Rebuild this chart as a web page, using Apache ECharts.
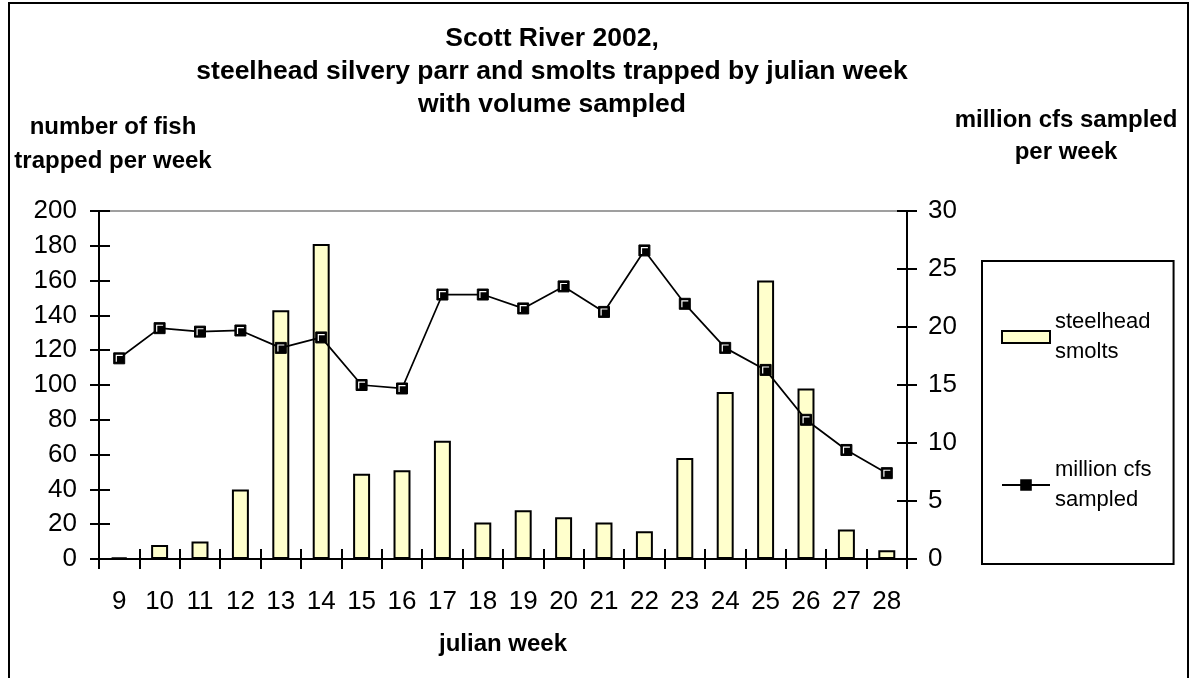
<!DOCTYPE html>
<html>
<head>
<meta charset="utf-8">
<script src="https://cdn.jsdelivr.net/npm/echarts@6/dist/echarts.min.js"></script>
<style>
  html, body { margin: 0; padding: 0; background: #fff; }
  #chart { width: 1196px; height: 678px; }
</style>
</head>
<body>
<div id="chart"></div>
<script>
// Julian weeks sampled at the Scott River trap, 2002
const weeks = ['9', '10', '11', '12', '13', '14', '15', '16', '17', '18',
               '19', '20', '21', '22', '23', '24', '25', '26', '27', '28'];
// Steelhead silvery parr and smolts trapped per week
const smolts = [1, 8, 10, 40, 143, 181, 49, 51, 68, 21,
                28, 24, 21, 16, 58, 96, 160, 98, 17, 5];
// Volume sampled per week (million cfs)
const volume = [17.3, 19.9, 19.6, 19.7, 18.2, 19.1, 15.0, 14.7, 22.8, 22.8,
                21.6, 23.5, 21.3, 26.6, 22.0, 18.2, 16.3, 12.0, 9.4, 7.4];
// Axis scales
const fishAxis = { min: 0, max: 200, interval: 20 };
const volumeAxis = { min: 0, max: 30, interval: 5 };

const FONT = '"Liberation Sans", Arial, sans-serif';
const legendLabels = {
  'steelhead smolts': 'steelhead\nsmolts',
  'million cfs sampled': 'million cfs\nsampled'
};

const chart = echarts.init(document.getElementById('chart'), null, { renderer: 'canvas' });

const tickLabel = { color: '#000', fontFamily: FONT, fontSize: 26 };
const blackLine = { show: true, lineStyle: { color: '#000', width: 2 } };

chart.setOption({
  backgroundColor: '#fff',
  animation: false,
  textStyle: { fontFamily: FONT },
  title: [
    {
      text: 'Scott River 2002,\nsteelhead silvery parr and smolts trapped by julian week\nwith volume sampled',
      left: 552, top: 22, padding: 0, textAlign: 'center',
      textStyle: { fontFamily: FONT, fontWeight: 'bold', fontSize: 26.5, lineHeight: 33, color: '#000' }
    },
    {
      text: 'number of fish\ntrapped per week',
      left: 113, top: 110, padding: 0, textAlign: 'center',
      textStyle: { fontFamily: FONT, fontWeight: 'bold', fontSize: 24, lineHeight: 34, color: '#000' }
    },
    {
      text: 'million cfs sampled\nper week',
      left: 1066, top: 104, padding: 0, textAlign: 'center',
      textStyle: { fontFamily: FONT, fontWeight: 'bold', fontSize: 24, lineHeight: 32, color: '#000' }
    }
  ],
  legend: {
    orient: 'vertical',
    left: 982, top: 261,
    padding: [46, 22, 49, 19],
    itemGap: 88,
    itemWidth: 48, itemHeight: 12,
    borderColor: '#000', borderWidth: 2,
    data: [
      { name: 'steelhead smolts', icon: 'rect' },
      { name: 'million cfs sampled' }
    ],
    formatter: name => legendLabels[name],
    textStyle: { fontFamily: FONT, fontSize: 22, lineHeight: 30, color: '#000' }
  },
  grid: { left: 99, right: 289, top: 211, bottom: 119, containLabel: false, outerBoundsMode: 'none' },
  xAxis: [
    {
      type: 'category', data: weeks, position: 'bottom',
      axisLine: { onZero: false, show: true, lineStyle: { color: '#000', width: 2 } },
      axisTick: { show: true, inside: false, length: 10, lineStyle: { color: '#000', width: 2 } },
      axisLabel: Object.assign({ margin: 30, interval: 0 }, tickLabel),
      splitLine: { show: false },
      name: 'julian week', nameLocation: 'middle', nameGap: 73,
      nameTextStyle: { fontFamily: FONT, fontWeight: 'bold', fontSize: 24, color: '#000' }
    },
    {
      // inward half of the crossing category ticks
      type: 'category', data: weeks, position: 'bottom',
      axisLine: { onZero: false, show: false },
      axisTick: { show: true, inside: true, length: 10, lineStyle: { color: '#000', width: 2 } },
      axisLabel: { show: false }, splitLine: { show: false }
    },
    {
      // grey frame line along the top of the plot
      type: 'category', data: weeks, position: 'top',
      axisLine: { onZero: false, show: true, lineStyle: { color: '#808080', width: 1.5 } },
      axisTick: { show: false }, axisLabel: { show: false }, splitLine: { show: false }
    }
  ],
  yAxis: [
    Object.assign({
      type: 'value', position: 'left',
      axisLine: blackLine,
      axisTick: { show: true, inside: false, length: 9, lineStyle: { color: '#000', width: 2 } },
      axisLabel: Object.assign({ margin: 22 }, tickLabel),
      splitLine: { show: false }
    }, fishAxis),
    Object.assign({
      type: 'value', position: 'right',
      axisLine: blackLine,
      axisTick: { show: true, inside: false, length: 10, lineStyle: { color: '#000', width: 2 } },
      axisLabel: Object.assign({ margin: 21 }, tickLabel),
      splitLine: { show: false }
    }, volumeAxis),
    Object.assign({
      // inward half of the crossing ticks, left
      type: 'value', position: 'left',
      axisLine: { show: false },
      axisTick: { show: true, inside: true, length: 11, lineStyle: { color: '#000', width: 2 } },
      axisLabel: { show: false }, splitLine: { show: false }
    }, fishAxis),
    Object.assign({
      // inward half of the crossing ticks, right
      type: 'value', position: 'right',
      axisLine: { show: false },
      axisTick: { show: true, inside: true, length: 10, lineStyle: { color: '#000', width: 2 } },
      axisLabel: { show: false }, splitLine: { show: false }
    }, volumeAxis)
  ],
  graphic: [
    {
      // outer chart frame
      type: 'rect', silent: true, z: 100,
      shape: { x: 9, y: 3, width: 1179, height: 700 },
      style: { fill: 'none', stroke: '#000', lineWidth: 2 }
    }
  ],
  series: [
    {
      name: 'steelhead smolts', type: 'bar',
      xAxisIndex: 0, yAxisIndex: 0,
      data: smolts, barWidth: '42%',
      itemStyle: { color: '#FFFFCC', borderColor: '#000', borderWidth: 2 }
    },
    {
      name: 'million cfs sampled', type: 'line',
      xAxisIndex: 0, yAxisIndex: 1,
      data: volume,
      symbol: 'rect', symbolSize: 11, showAllSymbol: true,
      lineStyle: { color: '#000', width: 1.75 },
      itemStyle: { color: '#000', borderColor: '#000', borderWidth: 1 },
      z: 5
    },
    {
      // white bevel inside each square marker
      name: 'marker bevel', type: 'line',
      xAxisIndex: 0, yAxisIndex: 1,
      data: volume, silent: true,
      symbol: 'path://M0,0 H7 V1.2 H1.2 V7 H0 Z', symbolSize: 7, showAllSymbol: true,
      lineStyle: { width: 0, opacity: 0 },
      itemStyle: { color: '#fff' },
      z: 6
    }
  ]
});
</script>
</body>
</html>
